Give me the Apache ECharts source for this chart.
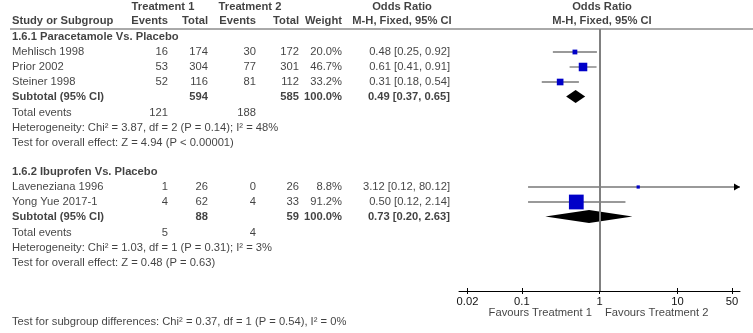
<!DOCTYPE html>
<html>
<head>
<meta charset="utf-8">
<script src="https://cdn.jsdelivr.net/npm/echarts@6/dist/echarts.min.js"></script>
<style>
html, body { margin: 0; padding: 0; background: #fff; }
#chart { width: 753px; height: 333px; }
</style>
</head>
<body>
<div id="chart"></div>
<script>
// subgroup 1.6.1
const g1Title = '1.6.1 Paracetamole Vs. Placebo';
const g1Studies = ['Mehlisch 1998', 'Prior 2002', 'Steiner 1998'];
const g1Ev1 = [16, 53, 52];
const g1Tot1 = [174, 304, 116];
const g1Ev2 = [30, 77, 81];
const g1Tot2 = [172, 301, 112];
const g1Weight = [20.0, 46.7, 33.2];
const g1OR = [0.48, 0.61, 0.31];
const g1Lo = [0.25, 0.41, 0.18];
const g1Hi = [0.92, 0.91, 0.54];
const g1Sub = { tot1: 594, tot2: 585, or: 0.49, lo: 0.37, hi: 0.65, ev1: 121, ev2: 188 };
const g1Het = 'Heterogeneity: Chi² = 3.87, df = 2 (P = 0.14); I² = 48%';
const g1Test = 'Test for overall effect: Z = 4.94 (P < 0.00001)';

// subgroup 1.6.2
const g2Title = '1.6.2 Ibuprofen Vs. Placebo';
const g2Studies = ['Laveneziana 1996', 'Yong Yue 2017-1'];
const g2Ev1 = [1, 4];
const g2Tot1 = [26, 62];
const g2Ev2 = [0, 4];
const g2Tot2 = [26, 33];
const g2Weight = [8.8, 91.2];
const g2OR = [3.12, 0.50];
const g2Lo = [0.12, 0.12];
const g2Hi = [80.12, 2.14];
const g2Sub = { tot1: 88, tot2: 59, or: 0.73, lo: 0.20, hi: 2.63, ev1: 5, ev2: 4 };
const g2Het = 'Heterogeneity: Chi² = 1.03, df = 1 (P = 0.31); I² = 3%';
const g2Test = 'Test for overall effect: Z = 0.48 (P = 0.63)';

const subgroupTest = 'Test for subgroup differences: Chi² = 0.37, df = 1 (P = 0.54), I² = 0%';
const tickValues = [0.02, 0.1, 1, 10, 50];
const favours = ['Favours Treatment 1', 'Favours Treatment 2'];

const FONT = "'Liberation Sans', Arial, sans-serif";
const FS = 11.2;
const AX_MIN = 0.01556, AX_MAX = 63.4;

// column anchors (x) for the table part
const col = { name: 12, ev1: 168, tot1: 208, ev2: 256, tot2: 299, w: 342, or: 450 };

const texts = [];
function txt(x, y, s, align, bold) {
  texts.push({
    name: String(s),
    value: [x, y],
    label: { align: align || 'left', fontWeight: bold ? 'bold' : 'normal' }
  });
}
function orText(o, l, h) {
  return o.toFixed(2) + ' [' + l.toFixed(2) + ', ' + h.toFixed(2) + ']';
}

const studyMarks = [];
const diamonds = [];

// lays out one subgroup starting at row y, returns the y of its last line
function group(y, title, names, ev1, tot1, ev2, tot2, w, or, lo, hi, sub, het, test) {
  txt(col.name, y, title, 'left', true);
  names.forEach((n, i) => {
    y += 15;
    txt(col.name, y, n);
    txt(col.ev1, y, ev1[i], 'right');
    txt(col.tot1, y, tot1[i], 'right');
    txt(col.ev2, y, ev2[i], 'right');
    txt(col.tot2, y, tot2[i], 'right');
    txt(col.w, y, w[i].toFixed(1) + '%', 'right');
    txt(col.or, y, orText(or[i], lo[i], hi[i]), 'right');
    studyMarks.push([or[i], lo[i], hi[i], y, 2 + 0.14 * w[i]]);
  });
  y += 14.5;
  txt(col.name, y, 'Subtotal (95% CI)', 'left', true);
  txt(col.tot1, y, sub.tot1, 'right', true);
  txt(col.tot2, y, sub.tot2, 'right', true);
  txt(col.w, y, '100.0%', 'right', true);
  txt(col.or, y, orText(sub.or, sub.lo, sub.hi), 'right', true);
  diamonds.push([sub.or, sub.lo, sub.hi, y]);
  y += 16.5;
  txt(col.name, y, 'Total events');
  txt(col.ev1, y, sub.ev1, 'right');
  txt(col.ev2, y, sub.ev2, 'right');
  y += 15;
  txt(col.name, y, het);
  y += 15;
  txt(col.name, y, test);
  return y;
}

// headers
txt(163, 7, 'Treatment 1', 'center', true);
txt(250, 7, 'Treatment 2', 'center', true);
txt(402, 7, 'Odds Ratio', 'center', true);
txt(602, 7, 'Odds Ratio', 'center', true);
txt(col.name, 21, 'Study or Subgroup', 'left', true);
txt(col.ev1, 21, 'Events', 'right', true);
txt(col.tot1, 21, 'Total', 'right', true);
txt(col.ev2, 21, 'Events', 'right', true);
txt(col.tot2, 21, 'Total', 'right', true);
txt(col.w, 21, 'Weight', 'right', true);
txt(402, 21, 'M-H, Fixed, 95% CI', 'center', true);
txt(602, 21, 'M-H, Fixed, 95% CI', 'center', true);

let yEnd = group(37, g1Title, g1Studies, g1Ev1, g1Tot1, g1Ev2, g1Tot2, g1Weight, g1OR, g1Lo, g1Hi, g1Sub, g1Het, g1Test);
group(yEnd + 29, g2Title, g2Studies, g2Ev1, g2Tot1, g2Ev2, g2Tot2, g2Weight, g2OR, g2Lo, g2Hi, g2Sub, g2Het, g2Test);

txt(592, 313, favours[0], 'right');
txt(605, 313, favours[1], 'left');
txt(col.name, 322, subgroupTest);

const chart = echarts.init(document.getElementById('chart'));
chart.setOption({
  animation: false,
  textStyle: { fontFamily: FONT },
  grid: [
    { left: 0, right: 0, top: 0, bottom: 0 },
    { left: 459, right: 13, top: 29, bottom: 42 }
  ],
  xAxis: [
    { gridIndex: 0, type: 'value', min: 0, max: 753, show: false },
    {
      gridIndex: 1, type: 'log', min: AX_MIN, max: AX_MAX, position: 'bottom',
      axisLine: { lineStyle: { color: '#000', width: 1 } },
      axisTick: { customValues: tickValues, length: 3, lineStyle: { color: '#000' } },
      axisLabel: { customValues: tickValues, color: '#111', fontSize: FS, fontFamily: FONT, margin: 5,
        formatter: v => String(+v.toPrecision(3)) },
      splitLine: { show: false }
    },
    {
      gridIndex: 1, type: 'log', min: AX_MIN, max: AX_MAX, position: 'bottom',
      axisLine: { show: false },
      axisTick: { inside: true, customValues: tickValues, length: 3, lineStyle: { color: '#000' } },
      axisLabel: { show: false },
      splitLine: { show: false }
    }
  ],
  yAxis: [
    { gridIndex: 0, type: 'value', min: 0, max: 333, inverse: true, show: false },
    { gridIndex: 1, type: 'value', min: 29, max: 291, inverse: true, show: false }
  ],
  graphic: [
    { type: 'line', shape: { x1: 10, y1: 29, x2: 753, y2: 29 }, style: { stroke: '#555', lineWidth: 1 }, silent: true }
  ],
  series: [
    {
      type: 'scatter', xAxisIndex: 0, yAxisIndex: 0, silent: true,
      symbolSize: 1, itemStyle: { color: 'rgba(0,0,0,0)' },
      label: { show: true, position: 'inside', formatter: '{b}', color: '#111', fontSize: FS, fontFamily: FONT, verticalAlign: 'middle' },
      data: texts
    },
    {
      type: 'custom', xAxisIndex: 1, yAxisIndex: 1, silent: true,
      renderItem: (params, api) => {
        const y = api.value(3);
        const c = api.coord([api.value(0), y]);
        const a = api.coord([api.value(1), y]);
        const hiV = api.value(2);
        const over = hiV > AX_MAX;
        const b = api.coord([over ? AX_MAX : hiV, y]);
        const s = api.value(4);
        const kids = [
          { type: 'line', shape: { x1: a[0], y1: a[1], x2: b[0], y2: b[1] }, style: { stroke: '#777', lineWidth: 1.3 } }
        ];
        if (over) {
          kids.push({ type: 'polygon', shape: { points: [[b[0], b[1]], [b[0] - 6, b[1] - 3.5], [b[0] - 6, b[1] + 3.5]] }, style: { fill: '#000' } });
        }
        kids.push({ type: 'rect', shape: { x: c[0] - s / 2, y: c[1] - s / 2, width: s, height: s }, style: { fill: '#0000c8' } });
        return { type: 'group', children: kids };
      },
      data: studyMarks,
      markLine: {
        silent: true, symbol: 'none', label: { show: false },
        lineStyle: { color: '#808080', width: 2, type: 'solid' },
        data: [{ xAxis: 1 }]
      }
    },
    {
      type: 'custom', xAxisIndex: 1, yAxisIndex: 1, silent: true,
      renderItem: (params, api) => {
        const y = api.value(3);
        const c = api.coord([api.value(0), y]);
        const a = api.coord([api.value(1), y]);
        const b = api.coord([api.value(2), y]);
        return {
          type: 'polygon',
          shape: { points: [[a[0], a[1]], [c[0], c[1] - 6.5], [b[0], b[1]], [c[0], c[1] + 6.5]] },
          style: { fill: '#000' }
        };
      },
      data: diamonds
    }
  ]
});
</script>
</body>
</html>
